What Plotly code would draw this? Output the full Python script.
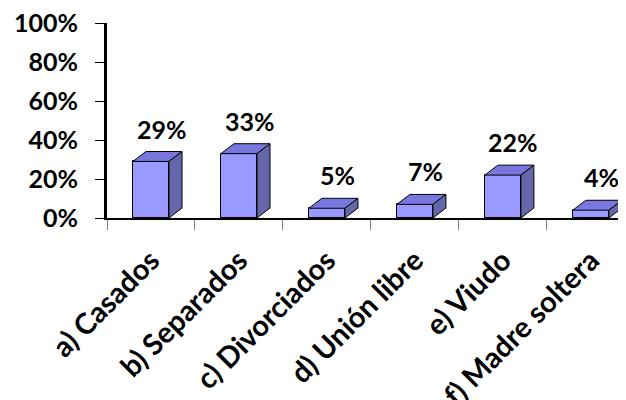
import plotly.graph_objects as go

categories = ["a) Casados", "b) Separados", "c) Divorciados",
              "d) Unión libre", "e) Viudo", "f) Madre soltera"]
values = [0.29, 0.33, 0.05, 0.07, 0.22, 0.04]
labels = ["29%", "33%", "5%", "7%", "22%", "4%"]
y_ticks = [0, 0.2, 0.4, 0.6, 0.8, 1.0]
y_ticktext = ["0%", "20%", "40%", "60%", "80%", "100%"]

FRONT = "#9999ff"
TOP = "#7777dd"
SIDE = "#6666aa"
EDGE = "#000000"
FONT = dict(family="Lato, sans-serif", size=25, color="#000000", weight="bold")
XFONT = dict(FONT, size=29)

BAR_W = 0.41   # front face width (category units)
DX = 0.148     # 3d depth offset in x
DY = 0.051     # 3d depth offset in y

xs = list(range(len(categories)))

fig = go.Figure()
fig.add_trace(go.Bar(
    x=xs, y=values, width=BAR_W,
    marker=dict(color=FRONT, line=dict(color=EDGE, width=1)),
    hoverinfo="skip", showlegend=False,
))

# top and side faces of each 3d bar, derived from the values
for x, v in zip(xs, values):
    l, r = x - BAR_W / 2, x + BAR_W / 2
    fig.add_trace(go.Scatter(
        x=[l, r, r + DX, l + DX, l], y=[v, v, v + DY, v + DY, v],
        mode="lines", fill="toself", fillcolor=TOP,
        line=dict(color=EDGE, width=1), hoverinfo="skip", showlegend=False,
    ))
    fig.add_trace(go.Scatter(
        x=[r, r + DX, r + DX, r, r], y=[0, DY, v + DY, v, 0],
        mode="lines", fill="toself", fillcolor=SIDE,
        line=dict(color=EDGE, width=1), hoverinfo="skip", showlegend=False,
    ))

for x, v, t in zip(xs, values, labels):
    fig.add_annotation(x=x + 0.12, y=v + DY, text=t, showarrow=False,
                       yanchor="bottom", yshift=6, font=FONT)

# page body has an 8px margin, so the figure is shrunk by that much
fig.update_layout(
    width=618, height=392,
    paper_bgcolor="#ffffff", plot_bgcolor="#ffffff",
    margin=dict(l=99, r=0, t=15, b=182),
    font=FONT,
    bargap=0,
    xaxis=dict(
        range=[-0.5, 5.4], tickmode="array", tickvals=xs, ticktext=categories,
        tickangle=-45, ticks="", showgrid=False, zeroline=False,
        showline=True, linecolor="#000000", linewidth=2,
        ticklabelstandoff=12, automargin=False, ticklabeloverflow="allow",
        minor=dict(tickvals=[i - 0.5 for i in xs], ticks="outside",
                   ticklen=10, tickcolor="#808080", tickwidth=1),
        tickfont=XFONT,
    ),
    yaxis=dict(
        range=[0, 1], tickmode="array", tickvals=y_ticks, ticktext=y_ticktext,
        ticks="outside", ticklen=9, tickcolor="#000000", tickwidth=1,
        showgrid=False, zeroline=False,
        showline=True, linecolor="#000000", linewidth=3,
        ticklabelstandoff=12, automargin=False, ticklabeloverflow="allow",
        tickfont=FONT,
    ),
)

fig.write_html("out.html")
